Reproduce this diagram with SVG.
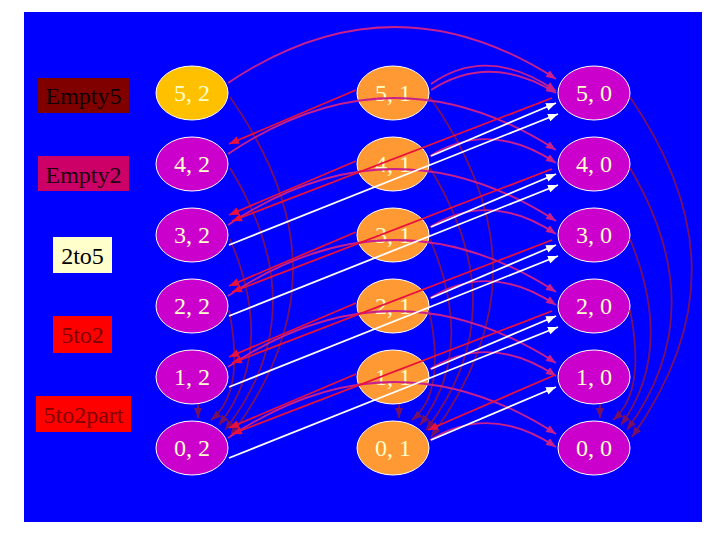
<svg xmlns="http://www.w3.org/2000/svg" width="720" height="540" viewBox="0 0 720 540">
<style>
.bg{fill:#0000FF}
.lg text,.node text{font-family:"Liberation Serif","Times New Roman",serif;font-size:24px;text-anchor:middle}
.node ellipse{stroke:#FFFFFF;stroke-width:1}
.node text{fill:#FFFFCC}
.c2{fill:#CC00CC}
.c1{fill:#FF9933}
.c0{fill:#CC00CC}
.gold{fill:#FFC000}
.e5{fill:none;stroke:#781060;stroke-width:1.8;marker-end:url(#mE5)}
.e2{fill:none;stroke:#C8208C;stroke-width:1.8;marker-end:url(#mE2)}
.w{fill:none;stroke:#FFFFFF;stroke-width:1.8;marker-end:url(#mW)}
.r{fill:none;stroke:#E8103C;stroke-width:1.8;marker-end:url(#mR)}
</style>
<defs>
<marker id="mE5" markerUnits="userSpaceOnUse" markerWidth="10" markerHeight="8" refX="10" refY="4" orient="auto"><path d="M0,0 L10,4 L0,8 z" fill="#781060"/></marker>
<marker id="mE2" markerUnits="userSpaceOnUse" markerWidth="10" markerHeight="8" refX="10" refY="4" orient="auto"><path d="M0,0 L10,4 L0,8 z" fill="#C8208C"/></marker>
<marker id="mW" markerUnits="userSpaceOnUse" markerWidth="10" markerHeight="8" refX="10" refY="4" orient="auto"><path d="M0,0 L10,4 L0,8 z" fill="#FFFFFF"/></marker>
<marker id="mR" markerUnits="userSpaceOnUse" markerWidth="10" markerHeight="8" refX="10" refY="4" orient="auto"><path d="M0,0 L10,4 L0,8 z" fill="#E8103C"/></marker>
</defs>
<rect x="0" y="0" width="720" height="540" fill="#FFFFFF"/>
<rect class="bg" x="24" y="12" width="678" height="510"/>

<g id="legend" class="lg">
<g id="leg-empty5"><rect x="38" y="78" width="91" height="35" fill="#800000"/><text x="83.5" y="104" fill="#100000">Empty5</text></g>
<g id="leg-empty2"><rect x="38" y="156" width="91" height="35" fill="#CC0066"/><text x="83.5" y="183" fill="#200010">Empty2</text></g>
<g id="leg-2to5"><rect x="53" y="237" width="59" height="36" fill="#FFFFCC"/><text x="82.5" y="264" fill="#000000">2to5</text></g>
<g id="leg-5to2"><rect x="53" y="316" width="59" height="37" fill="#FF0000"/><text x="82.5" y="343" fill="#800000">5to2</text></g>
<g id="leg-5to2part"><rect x="36" y="396" width="95" height="36" fill="#FF0000"/><text x="83.5" y="423" fill="#800000">5to2part</text></g>
</g>

<g id="nodes">
<g id="n52" class="node"><ellipse class="gold" cx="192" cy="93" rx="36" ry="27"/><text x="192" y="101">5, 2</text></g>
<g id="n42" class="node"><ellipse class="c2" cx="192" cy="164" rx="36" ry="27"/><text x="192" y="172">4, 2</text></g>
<g id="n32" class="node"><ellipse class="c2" cx="192" cy="235" rx="36" ry="27"/><text x="192" y="243">3, 2</text></g>
<g id="n22" class="node"><ellipse class="c2" cx="192" cy="306" rx="36" ry="27"/><text x="192" y="314">2, 2</text></g>
<g id="n12" class="node"><ellipse class="c2" cx="192" cy="377" rx="36" ry="27"/><text x="192" y="385">1, 2</text></g>
<g id="n02" class="node"><ellipse class="c2" cx="192" cy="448" rx="36" ry="27"/><text x="192" y="456">0, 2</text></g>
<g id="n51" class="node"><ellipse class="c1" cx="393" cy="93" rx="36" ry="27"/><text x="393" y="101">5, 1</text></g>
<g id="n41" class="node"><ellipse class="c1" cx="393" cy="164" rx="36" ry="27"/><text x="393" y="172">4, 1</text></g>
<g id="n31" class="node"><ellipse class="c1" cx="393" cy="235" rx="36" ry="27"/><text x="393" y="243">3, 1</text></g>
<g id="n21" class="node"><ellipse class="c1" cx="393" cy="306" rx="36" ry="27"/><text x="393" y="314">2, 1</text></g>
<g id="n11" class="node"><ellipse class="c1" cx="393" cy="377" rx="36" ry="27"/><text x="393" y="385">1, 1</text></g>
<g id="n01" class="node"><ellipse class="c1" cx="393" cy="448" rx="36" ry="27"/><text x="393" y="456">0, 1</text></g>
<g id="n50" class="node"><ellipse class="c0" cx="594" cy="93" rx="36" ry="27"/><text x="594" y="101">5, 0</text></g>
<g id="n40" class="node"><ellipse class="c0" cx="594" cy="164" rx="36" ry="27"/><text x="594" y="172">4, 0</text></g>
<g id="n30" class="node"><ellipse class="c0" cx="594" cy="235" rx="36" ry="27"/><text x="594" y="243">3, 0</text></g>
<g id="n20" class="node"><ellipse class="c0" cx="594" cy="306" rx="36" ry="27"/><text x="594" y="314">2, 0</text></g>
<g id="n10" class="node"><ellipse class="c0" cx="594" cy="377" rx="36" ry="27"/><text x="594" y="385">1, 0</text></g>
<g id="n00" class="node"><ellipse class="c0" cx="594" cy="448" rx="36" ry="27"/><text x="594" y="456">0, 0</text></g>
</g>

<g id="connectors">
<!-- Empty5 -->
<path class="e5" d="M230,97 C314,217 314,324 230,437"/>
<path class="e5" d="M230,168 C288,263 288,349 225,430"/>
<path class="e5" d="M230,239 C260,310 260,373 219,425"/>
<path class="e5" d="M229,310 C238,356 238,398 211,420"/>
<path class="e5" d="M198,404 L198,418"/>
<path class="e5" d="M430,97 C514,217 514,324 431,437"/>
<path class="e5" d="M430,168 C488,263 488,349 426,430"/>
<path class="e5" d="M430,239 C460,310 460,373 420,425"/>
<path class="e5" d="M429,310 C439,356 439,398 412,420"/>
<path class="e5" d="M399,404 L399,418"/>
<path class="e5" d="M630,97 C712,217 712,324 632,437"/>
<path class="e5" d="M630,168 C686,263 686,349 627,430"/>
<path class="e5" d="M630,239 C659,310 659,373 621,425"/>
<path class="e5" d="M630,310 C639,356 639,398 613,420"/>
<path class="e5" d="M600,404 L600,418"/>
<!-- Empty2 -->
<path class="e2" d="M228,83 Q392,-27 556,79"/>
<path class="e2" d="M228,154 Q392,44 556,150"/>
<path class="e2" d="M228,225 Q392,115 556,221"/>
<path class="e2" d="M228,296 Q392,186 556,292"/>
<path class="e2" d="M228,367 Q392,257 556,363"/>
<path class="e2" d="M228,438 Q392,328 556,434"/>
<path class="e2" d="M431,84 Q488,44 556,91"/>
<path class="e2" d="M431,90 Q490,52 556,93"/>
<path class="e2" d="M430,156 Q490,119 556,163"/>
<path class="e2" d="M430,227 Q490,190 556,234"/>
<path class="e2" d="M430,298 Q490,261 556,305"/>
<path class="e2" d="M430,369 Q490,332 556,376"/>
<path class="e2" d="M430,440 Q490,403 556,447"/>
<!-- 2to5 -->
<path class="w" d="M431,156 L556,103"/>
<path class="w" d="M431,227 L556,174"/>
<path class="w" d="M431,298 L556,245"/>
<path class="w" d="M431,369 L556,316"/>
<path class="w" d="M431,440 L556,387"/>
<path class="w" d="M229,245 L558,114"/>
<path class="w" d="M229,316 L558,185"/>
<path class="w" d="M229,387 L558,256"/>
<path class="w" d="M229,458 L558,327"/>
<!-- 5to2 -->
<path class="r" d="M552,98 L232,221"/>
<path class="r" d="M552,169 L232,292"/>
<path class="r" d="M552,240 L232,363"/>
<path class="r" d="M552,311 L232,434"/>
<path class="r" d="M356,90 L229,144"/>
<path class="r" d="M356,161 L229,215"/>
<path class="r" d="M356,232 L229,286"/>
<path class="r" d="M356,303 L229,357"/>
<path class="r" d="M356,374 L229,428"/>
<!-- 5to2part -->
<path class="r" d="M555,375 L428,430"/>
</g>
</svg>
